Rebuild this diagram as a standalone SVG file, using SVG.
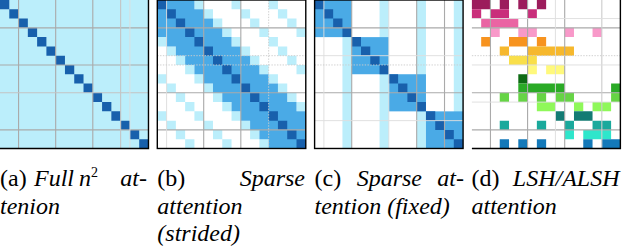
<svg xmlns="http://www.w3.org/2000/svg" xmlns:xlink="http://www.w3.org/1999/xlink" width="624" height="250" viewBox="0 0 624 250">
<style>
.lt{fill:#bbeefb}
.md{fill:#4aaae6}
.dk{fill:#1860ac}
.g{stroke:#aaaaaa;stroke-width:0.12;fill:none}
.gf{stroke:#dddddd;stroke-width:0.1;fill:none}
.gd{stroke:#cccccc;stroke-width:0.1;stroke-dasharray:0.15 0.15;fill:none}
.bd{stroke:#000000;stroke-width:0.15;fill:none}
.it{font-style:italic}
</style>
<defs>
<path id="diag" d="M0 0h1v1h-1zM1 1h1v1h-1zM2 2h1v1h-1zM3 3h1v1h-1zM4 4h1v1h-1zM5 5h1v1h-1zM6 6h1v1h-1zM7 7h1v1h-1zM8 8h1v1h-1zM9 9h1v1h-1zM10 10h1v1h-1zM11 11h1v1h-1zM12 12h1v1h-1zM13 13h1v1h-1zM14 14h1v1h-1zM15 15h1v1h-1z"/>
<path id="stride" d="M4 0h1v1h-1zM5 1h1v1h-1zM6 2h1v1h-1zM7 3h1v1h-1zM8 4h1v1h-1zM9 5h1v1h-1zM10 6h1v1h-1zM11 7h1v1h-1zM12 8h1v1h-1zM13 9h1v1h-1zM14 10h1v1h-1zM15 11h1v1h-1zM8 0h1v1h-1zM9 1h1v1h-1zM10 2h1v1h-1zM11 3h1v1h-1zM12 4h1v1h-1zM13 5h1v1h-1zM14 6h1v1h-1zM15 7h1v1h-1zM12 0h1v1h-1zM13 1h1v1h-1zM14 2h1v1h-1zM15 3h1v1h-1z"/>
</defs>
<rect width="624" height="250" fill="#ffffff"/>

<g id="panel-a">
<g transform="translate(0 0) scale(9.28)">
<rect class="lt" x="0" y="0" width="16" height="16"/>
<use xlink:href="#diag" href="#diag" class="dk"/>
<path class="g" d="M2 0V16M6 0V16M10 0V16M0 3H16M0 7H16M0 14H16"/>
<path class="g" style="stroke:#c4c4c4" d="M13 0V16M0 10H16"/>
<path class="gf" d="M14 0V16"/>
<path class="bd" d="M16 0V16H0"/>
</g>
<g font-family="Liberation Serif, Times New Roman, Times, DejaVu Serif, serif" font-size="24" fill="#000">
<text x="0" y="186">(a)</text>
<text class="it" x="34" y="186">Full</text>
<text class="it" x="79" y="186">n</text>
<text x="91" y="177" font-size="14">2</text>
<text class="it" x="147" y="186" text-anchor="end">at-</text>
<text class="it" x="0" y="213.5">tenion</text>
</g>
</g>

<g id="panel-b">
<g transform="translate(157.3 0) scale(9.28)">
<use xlink:href="#stride" href="#stride" class="lt"/>
<use xlink:href="#stride" href="#stride" class="lt" transform="matrix(0 1 1 0 0 0)"/>
<polygon class="md" points="0,0 4,0 4,1 5,1 5,2 6,2 6,3 7,3 7,4 8,4 8,5 9,5 9,6 10,6 10,7 11,7 11,8 12,8 12,9 13,9 13,10 14,10 14,11 15,11 15,12 16,12 16,16 12,16 12,15 11,15 11,14 10,14 10,13 9,13 9,12 8,12 8,11 7,11 7,10 6,10 6,9 5,9 5,8 4,8 4,7 3,7 3,6 2,6 2,5 1,5 1,4 0,4"/>
<use xlink:href="#diag" href="#diag" class="dk"/>
<path class="g" d="M5 0V16M9 0V16M0 3H16M0 10H16M0 14H16"/>
<path class="gf" d="M1 0V16"/>
<path class="gd" d="M12 0V16M0 6H16M0 7H16"/>
<rect class="bd" x="0" y="0" width="16" height="16"/>
</g>
<g font-family="Liberation Serif, Times New Roman, Times, DejaVu Serif, serif" font-size="24" fill="#000">
<text x="157.3" y="186">(b)</text>
<text class="it" x="305" y="186" text-anchor="end">Sparse</text>
<text class="it" x="157.3" y="213.5">attention</text>
<text class="it" x="157.3" y="241">(strided)</text>
</g>
</g>

<g id="panel-c">
<g transform="translate(314.6 0) scale(9.28)">
<rect class="lt" x="3" y="0" width="1" height="16"/>
<rect class="lt" x="7" y="0" width="1" height="16"/>
<rect class="lt" x="11" y="0" width="1" height="16"/>
<rect class="lt" x="15" y="0" width="1" height="16"/>
<rect class="md" x="0" y="0" width="4" height="4"/>
<rect class="md" x="4" y="4" width="4" height="4"/>
<rect class="md" x="8" y="8" width="4" height="4"/>
<rect class="md" x="12" y="12" width="4" height="4"/>
<use xlink:href="#diag" href="#diag" class="dk"/>
<path class="g" d="M4 0V16M11 0V16M14 0V16M0 3H16M0 10H16"/>
<path class="gf" d="M1 0V16M8 0V16M0 6H16M0 13H16"/>
<path class="gd" d="M0 7H16"/>
<rect class="bd" x="0" y="0" width="16" height="16"/>
</g>
<g font-family="Liberation Serif, Times New Roman, Times, DejaVu Serif, serif" font-size="24" fill="#000">
<text x="314.5" y="186">(c)</text>
<text class="it" x="356.7" y="186">Sparse</text>
<text class="it" x="464" y="186" text-anchor="end">at-</text>
<text class="it" x="314.5" y="213.5">tention (fixed)</text>
</g>
</g>

<g id="panel-d">
<g transform="translate(471.9 0) scale(9.28)">
<path fill="#9c1c5c" d="M0 0h2v1h-2zM3 0h1v1h-1zM5 0h1v1h-1zM7 0h1v1h-1z"/>
<path fill="#c92f7b" d="M0 1h1v1h-1zM2 1h2v1h-2zM6 1h1v1h-1z"/>
<path fill="#ea64a3" d="M1 2h4v1h-4z"/>
<path fill="#f899c9" d="M2 3h1v1h-1zM5 3h2v1h-2zM10 3h1v1h-1zM13 3h1v1h-1z"/>
<path fill="#f7931f" d="M1 4h1v1h-1zM4 4h2v1h-2zM7 4h1v1h-1z"/>
<path fill="#f6b82d" d="M3 5h1v1h-1zM6 5h5v1h-5z"/>
<path fill="#f9df4a" d="M4 6h3v1h-3z"/>
<path fill="#fff97c" d="M6 7h1v1h-1zM8 7h2v1h-2z"/>
<path fill="#0e6b14" d="M5 8h1v1h-1z"/>
<path fill="#2aaa26" d="M5 9h5v1h-5zM15 9h1v1h-1z"/>
<path fill="#66d445" d="M3 10h1v1h-1zM5 10h1v1h-1zM7 10h1v1h-1zM9 10h2v1h-2zM15 10h1v1h-1z"/>
<path fill="#8ff85a" d="M7 11h2v1h-2zM11 11h1v1h-1zM13 11h2v1h-2z"/>
<path fill="#137b73" d="M9 12h1v1h-1zM11 12h2v1h-2z"/>
<path fill="#1aa99c" d="M3 13h1v1h-1zM7 13h1v1h-1zM10 13h1v1h-1zM13 13h2v1h-2z"/>
<path fill="#2ee6cb" d="M10 14h1v1h-1zM12 14h3v1h-3z"/>
<path fill="#1479b9" d="M3 15h1v1h-1zM5 15h1v1h-1zM7 15h1v1h-1zM12 15h1v1h-1zM14 15h2v1h-2z"/>
<path class="g" d="M2 0V16M6 0V16M10 0V16M0 3H16M0 10H16M0 14H16"/>
<path class="g" style="stroke:#cccccc" d="M14 0V16"/>
<path class="gf" d="M9 0V16M0 2H16M0 7H16M0 11H16"/>
<path class="gd" d="M0 6H16"/>
<path class="bd" d="M16 0V16H0"/>
</g>
<g font-family="Liberation Serif, Times New Roman, Times, DejaVu Serif, serif" font-size="24" fill="#000">
<text x="471.5" y="186">(d)</text>
<text class="it" x="619.5" y="186" text-anchor="end">LSH/ALSH</text>
<text class="it" x="471.5" y="213.5">attention</text>
</g>
</g>
</svg>
